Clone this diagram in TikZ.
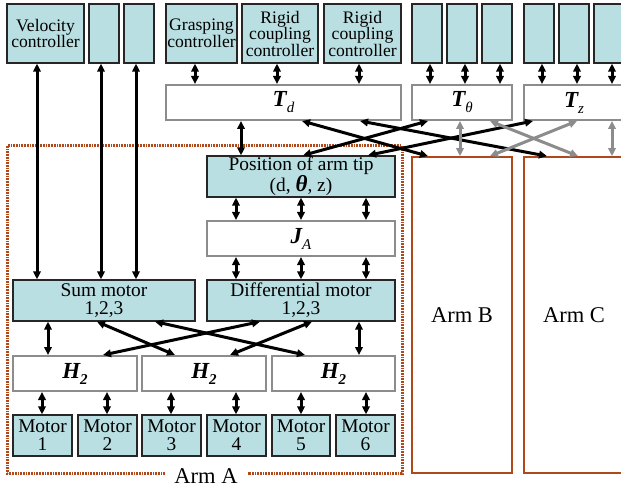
\documentclass[tikz,border=0pt]{standalone}
\usepackage{fontspec}
\setmainfont{Liberation Serif}
\usetikzlibrary{arrows.meta}
\definecolor{cyanfill}{HTML}{B9DFE2}
\definecolor{armbrown}{HTML}{B0481A}
\definecolor{tgray}{HTML}{8C8C8C}
\newcommand\tx[7]{%
  \pgfmathsetmacro\bw{#4-#2}\pgfmathsetmacro\bh{#5-#3}%
  \pgfmathsetmacro\cx{(#2+#4)/2}\pgfmathsetmacro\cy{(#3+#5)/2}%
  \node[#6, minimum width=\bw pt, minimum height=\bh pt] (#1) at (\cx,\cy) {#7};}
\newcommand\bigT[1]{{\fontsize{23}{22}\selectfont\bfseries\itshape T}\raisebox{-6pt}{\fontsize{15}{14}\selectfont\itshape #1}}
\newcommand\bigH{{\fontsize{23}{22}\selectfont\bfseries\itshape H}\raisebox{-6pt}{\fontsize{15}{14}\selectfont\bfseries\itshape 2}}
\tikzset{
  cbox/.style={draw=black!85, fill=cyanfill, line width=1.3pt, inner sep=0pt, align=center, font=\fontsize{19.4}{18}\selectfont},
  ctrl/.style={cbox, font=\fontsize{17.6}{16.5}\selectfont},
  tbox/.style={draw=tgray, fill=white, line width=2pt, inner sep=0pt, align=center},
  armbox/.style={draw=armbrown, line width=1.8pt, inner sep=0pt, font=\fontsize{22.5}{22}\selectfont},
  arr/.style={{Triangle[length=8pt,width=7.5pt]}-{Triangle[length=8pt,width=7.5pt]}, line width=3pt, black},
  garr/.style={arr, draw=tgray, fill=tgray},
}
\begin{document}
\begin{tikzpicture}[x=1pt,y=-1pt]
\clip (0,0) rectangle (621,489);
\fill[white] (0,0) rectangle (621,489);
% top controllers
\tx{vel}{7}{4}{84}{63}{ctrl}{Velocity\\controller}
\tx{b1}{89}{4}{119}{63}{ctrl}{}
\tx{b2}{124}{4}{154}{63}{ctrl}{}
\tx{gr}{166}{4}{237}{63}{ctrl}{Grasping\\controller}
\tx{rc1}{242}{4}{318}{63}{ctrl}{Rigid\\coupling\\controller}
\tx{rc2}{324}{4}{401}{63}{ctrl}{Rigid\\coupling\\controller}
\tx{t1}{412}{4}{442}{63}{ctrl}{}
\tx{t2}{447}{4}{477}{63}{ctrl}{}
\tx{t3}{482}{4}{512}{63}{ctrl}{}
\tx{z1}{524}{4}{554}{63}{ctrl}{}
\tx{z2}{559}{4}{589}{63}{ctrl}{}
\tx{z3}{594}{4}{624}{63}{ctrl}{}
% T boxes
\tx{td}{166}{85}{401}{120}{tbox}{\bigT{d}}
\tx{tth}{412}{85}{512}{120}{tbox}{\bigT{θ}}
\tx{tz}{524}{85}{624}{120}{tbox}{\bigT{z}}
% Arm A frame
\draw[armbrown, line width=3pt, dash pattern=on 1.7pt off 1pt] (165,473) -- (7,473) -- (7,146) -- (402,146) -- (402,473) -- (248,473);
\node[font=\fontsize{22.5}{22}\selectfont, inner sep=0pt] (armA) at (206,476) {Arm A};
% Arm A contents
\tx{pos}{207}{156}{395}{197}{cbox}{Position of arm tip\\(d, {\fontsize{23}{18}\selectfont\bfseries\itshape θ}, z)}
\tx{ja}{207}{221}{395}{256}{tbox}{{\fontsize{23}{22}\selectfont\bfseries\itshape J}\raisebox{-6pt}{\fontsize{15}{14}\selectfont\itshape A}}
\tx{sum}{13}{280}{195}{321}{cbox}{Sum motor\\1,2,3}
\tx{diff}{207}{280}{395}{321}{cbox}{Differential motor\\1,2,3}
\tx{h1}{13}{356}{137}{391}{tbox}{\bigH}
\tx{h2}{142}{356}{266}{391}{tbox}{\bigH}
\tx{h3}{272}{356}{395}{391}{tbox}{\bigH}
\tx{m1}{13}{415}{72}{456}{cbox}{Motor\\1}
\tx{m2}{78}{415}{137}{456}{cbox}{Motor\\2}
\tx{m3}{142}{415}{201}{456}{cbox}{Motor\\3}
\tx{m4}{207}{415}{266}{456}{cbox}{Motor\\4}
\tx{m5}{272}{415}{330}{456}{cbox}{Motor\\5}
\tx{m6}{336}{415}{395}{456}{cbox}{Motor\\6}
% Arms B, C
\tx{armB}{412}{157}{512}{473}{armbox}{Arm B}
\tx{armC}{524}{157}{624}{473}{armbox}{Arm C}
% connectors: velocity
\draw[arr] (vel.south -| 37,0) -- (sum.north -| 37,0);
\draw[arr] (b1.south -| 101,0) -- (sum.north -| 101,0);
\draw[arr] (b2.south -| 136,0) -- (sum.north -| 136,0);
% controllers to T
\draw[arr] (gr.south -| 195,0) -- (td.north -| 195,0);
\draw[arr] (rc1.south -| 277,0) -- (td.north -| 277,0);
\draw[arr] (rc2.south -| 359,0) -- (td.north -| 359,0);
\draw[arr] (t1.south -| 430,0) -- (tth.north -| 430,0);
\draw[arr] (t2.south -| 465,0) -- (tth.north -| 465,0);
\draw[arr] (t3.south -| 500,0) -- (tth.north -| 500,0);
\draw[arr] (z1.south -| 542,0) -- (tz.north -| 542,0);
\draw[arr] (z2.south -| 577,0) -- (tz.north -| 577,0);
\draw[arr] (z3.south -| 612,0) -- (tz.north -| 612,0);
% T to arms
\draw[arr] (td.south -| 241,0) -- (pos.north -| 241,0);
\draw[arr] (td.south -| 302,0) -- (armB.north -| 428,0);
\draw[arr] (td.south -| 360,0) -- (armC.north -| 547,0);
\draw[arr] (pos.north -| 303,0) -- (tth.south -| 428,0);
\draw[arr] (pos.north -| 368,0) -- (tz.south -| 533,0);
\draw[garr] (tth.south -| 460,0) -- (armB.north -| 460,0);
\draw[garr] (tth.south -| 490,0) -- (armC.north -| 578,0);
\draw[garr] (tz.south -| 577,0) -- (armB.north -| 490,0);
\draw[garr] (tz.south -| 612,0) -- (armC.north -| 612,0);
% inside arm A
\foreach \xx in {236,301,366}{
  \draw[arr] (pos.south -| \xx,0) -- (ja.north -| \xx,0);
  \draw[arr] (ja.south -| \xx,0) -- (diff.north -| \xx,0);
}
\draw[arr] (sum.south -| 48,0) -- (h1.north -| 48,0);
\draw[arr] (sum.south -| 97,0) -- (h2.north -| 175,0);
\draw[arr] (sum.south -| 155,0) -- (h3.north -| 305,0);
\draw[arr] (diff.south -| 260,0) -- (h1.north -| 103,0);
\draw[arr] (diff.south -| 312,0) -- (h2.north -| 230,0);
\draw[arr] (diff.south -| 359,0) -- (h3.north -| 359,0);
\draw[arr] (h1.south -| 42,0) -- (m1.north -| 42,0);
\draw[arr] (h1.south -| 107,0) -- (m2.north -| 107,0);
\draw[arr] (h2.south -| 171,0) -- (m3.north -| 171,0);
\draw[arr] (h2.south -| 236,0) -- (m4.north -| 236,0);
\draw[arr] (h3.south -| 301,0) -- (m5.north -| 301,0);
\draw[arr] (h3.south -| 366,0) -- (m6.north -| 366,0);
\end{tikzpicture}
\end{document}
